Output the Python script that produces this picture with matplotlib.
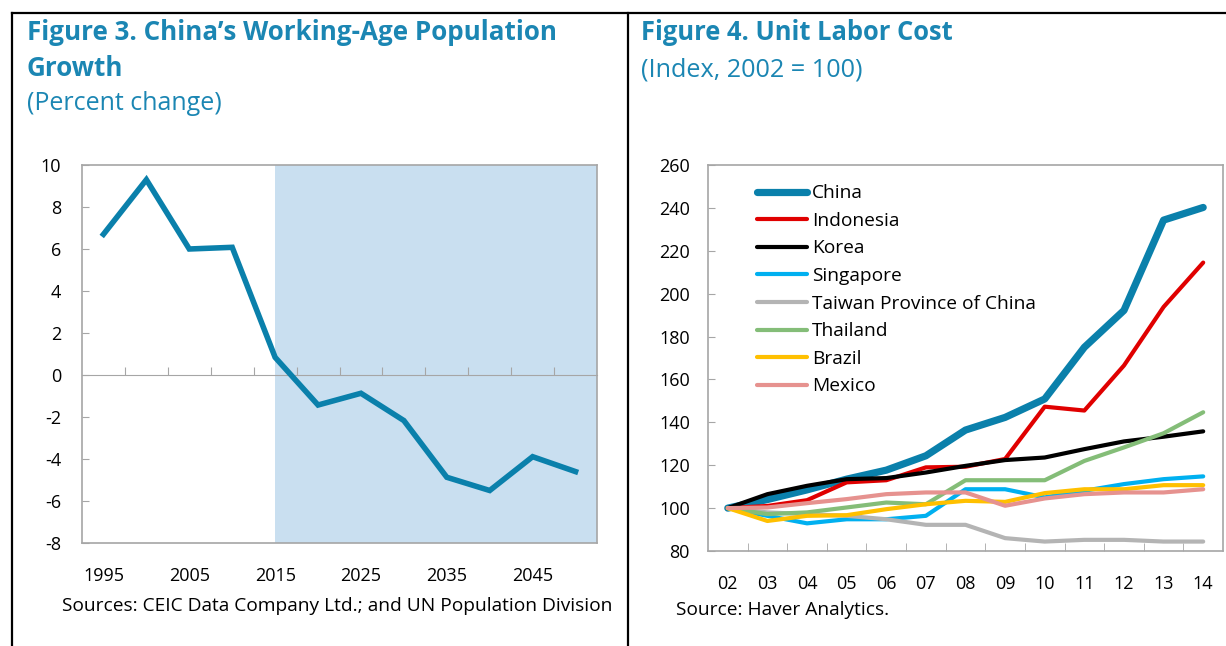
import matplotlib.pyplot as plt
from matplotlib.lines import Line2D

# --------------------------------------------------------------
# Data
# --------------------------------------------------------------
pop_years = ["1995", "2000", "2005", "2010", "2015", "2020",
             "2025", "2030", "2035", "2040", "2045", "2050"]
pop_growth = [6.7, 9.3, 6.0, 6.08, 0.84, -1.43,
              -0.87, -2.17, -4.87, -5.5, -3.89, -4.6]
projection_start = "2015"

ulc_years = ["02", "03", "04", "05", "06", "07", "08",
             "09", "10", "11", "12", "13", "14"]
china = [100, 104, 108.5, 113.5, 117.7, 124.4, 136.4, 142.3, 150.9, 175, 192.2, 234.3, 240.2]
indonesia = [100, 101, 103.7, 112, 113, 119, 119.3, 122.9, 147.3, 145.5, 166.5, 193.8, 214.5]
korea = [100, 106.5, 110.4, 113.5, 114, 116.6, 119.7, 122.4, 123.6, 127.5, 131.1, 133.3, 135.8]
singapore = [100, 96.4, 92.9, 94.8, 94.8, 96.4, 108.8, 108.8, 105, 108.1, 111.2, 113.5, 114.8]
taiwan = [100, 98, 97.2, 96.4, 94.8, 92.2, 92.2, 86, 84.4, 85.2, 85.2, 84.4, 84.4]
thailand = [100, 97.2, 98, 100.3, 102.6, 101.8, 113, 113, 113, 122, 128.3, 134.9, 144.7]
brazil = [100, 94, 96.4, 96.7, 99.5, 101.8, 103.4, 102.9, 107, 108.8, 108.8, 110.7, 110.7]
mexico = [100, 100.3, 102.3, 104.2, 106.5, 107.3, 107.3, 101.1, 104.5, 106.5, 107.3, 107.3, 108.8]

series = [
    ("China", china, "#0a80ab", 5.2),
    ("Indonesia", indonesia, "#e00000", 3.0),
    ("Korea", korea, "#000000", 3.0),
    ("Singapore", singapore, "#00b0f0", 3.0),
    ("Taiwan Province of China", taiwan, "#b4b4b4", 3.0),
    ("Thailand", thailand, "#84bd78", 3.0),
    ("Brazil", brazil, "#ffc000", 3.0),
    ("Mexico", mexico, "#e6928f", 3.0),
]

# --------------------------------------------------------------
# Style
# --------------------------------------------------------------
plt.rcParams["font.family"] = ["Open Sans", "DejaVu Sans"]
plt.rcParams["axes.unicode_minus"] = False
TITLE_COLOR = "#1b86b3"
GRAY = "#a6a6a6"
W, H = 1226, 646

fig = plt.figure(figsize=(12.26, 6.46), dpi=100)


def fx(px):
    return px / W


def fy(py):
    return 1 - py / H


# panel borders
fig.add_artist(Line2D([fx(12), fx(12)], [fy(13), 0], color="black", lw=1.6))
fig.add_artist(Line2D([fx(12), 1], [fy(13), fy(13)], color="black", lw=1.6))
fig.add_artist(Line2D([fx(628), fx(628)], [fy(13), 0], color="black", lw=1.6))

# titles
fig.text(fx(27), fy(33), "Figure 3. China\u2019s Working-Age Population",
         color=TITLE_COLOR, fontsize=18.7, fontweight="bold", va="center")
fig.text(fx(27), fy(69), "Growth", color=TITLE_COLOR, fontsize=18.7,
         fontweight="bold", va="center")
fig.text(fx(27), fy(104), "(Percent change)", color=TITLE_COLOR,
         fontsize=18, va="center")
fig.text(fx(641), fy(33), "Figure 4. Unit Labor Cost", color=TITLE_COLOR,
         fontsize=18.4, fontweight="bold", va="center")
fig.text(fx(641), fy(70), "(Index, 2002 = 100)", color=TITLE_COLOR,
         fontsize=18.2, va="center")

# --------------------------------------------------------------
# Figure 3: working-age population growth
# --------------------------------------------------------------
ax1 = fig.add_axes([fx(82), fy(543), fx(597) - fx(82), fy(165) - fy(543)])
x1 = list(range(len(pop_years)))
start = pop_years.index(projection_start)
ax1.axvspan(start, len(pop_years) - 0.5, color="#c9dff0", lw=0, zorder=0)
ax1.plot(x1, pop_growth, color="#0a80ab", lw=4, solid_joinstyle="miter", zorder=3)

ax1.set_xlim(-0.5, len(pop_years) - 0.5)
ax1.set_ylim(-8, 10)
ax1.set_yticks(range(-8, 11, 2))
ax1.tick_params(axis="y", direction="in", length=5, color=GRAY,
                labelsize=13, pad=15)

# category axis crosses at zero
ax1.spines["bottom"].set_position(("data", 0))
ax1.spines["bottom"].set_color(GRAY)
ax1.set_xticks([i + 0.5 for i in x1[:-1]])
ax1.tick_params(axis="x", direction="in", length=6, color=GRAY, labelbottom=False)
for s in ["top", "left", "right"]:
    ax1.spines[s].set_color(GRAY)
    ax1.spines[s].set_linewidth(1.2)

sec = ax1.secondary_xaxis("bottom")
sec.set_xticks(x1[::2], pop_years[::2])
sec.tick_params(length=0, labelsize=13, pad=17)
sec.spines["bottom"].set_color(GRAY)
sec.spines["bottom"].set_linewidth(1.2)

fig.text(fx(62), fy(606), "Sources: CEIC Data Company Ltd.; and UN Population Division",
         fontsize=13.8, va="center")

# --------------------------------------------------------------
# Figure 4: unit labor cost
# --------------------------------------------------------------
ax2 = fig.add_axes([fx(708), fy(551), fx(1223) - fx(708), fy(165) - fy(551)])
x2 = list(range(len(ulc_years)))
for name, vals, color, lw in series:
    ax2.plot(x2, vals, color=color, lw=lw, label=name, solid_capstyle="round")

ax2.set_xlim(-0.5, len(ulc_years) - 0.5)
ax2.set_ylim(80, 260)
ax2.set_yticks(range(80, 261, 20))
ax2.set_xticks(x2)
ax2.set_xticklabels(ulc_years)
ax2.set_xticks([i + 0.5 for i in x2[:-1]], minor=True)
ax2.tick_params(axis="x", which="major", length=0, labelsize=13, pad=17)
ax2.tick_params(axis="x", which="minor", direction="in", length=6, color=GRAY)
ax2.tick_params(axis="y", direction="in", length=5, color=GRAY,
                labelsize=13, pad=13)
for s in ax2.spines.values():
    s.set_color(GRAY)
    s.set_linewidth(1.2)

leg = ax2.legend(loc="upper left", bbox_to_anchor=(0.095, 0.95), frameon=False,
                 fontsize=13.8, handlelength=2.6, handletextpad=0.28,
                 labelspacing=0.5, borderpad=0, borderaxespad=0)
for h in leg.get_lines():
    h.set_solid_capstyle("round")

fig.text(fx(676), fy(610), "Source: Haver Analytics.", fontsize=13.8, va="center")

plt.savefig("out.png", dpi=100)
